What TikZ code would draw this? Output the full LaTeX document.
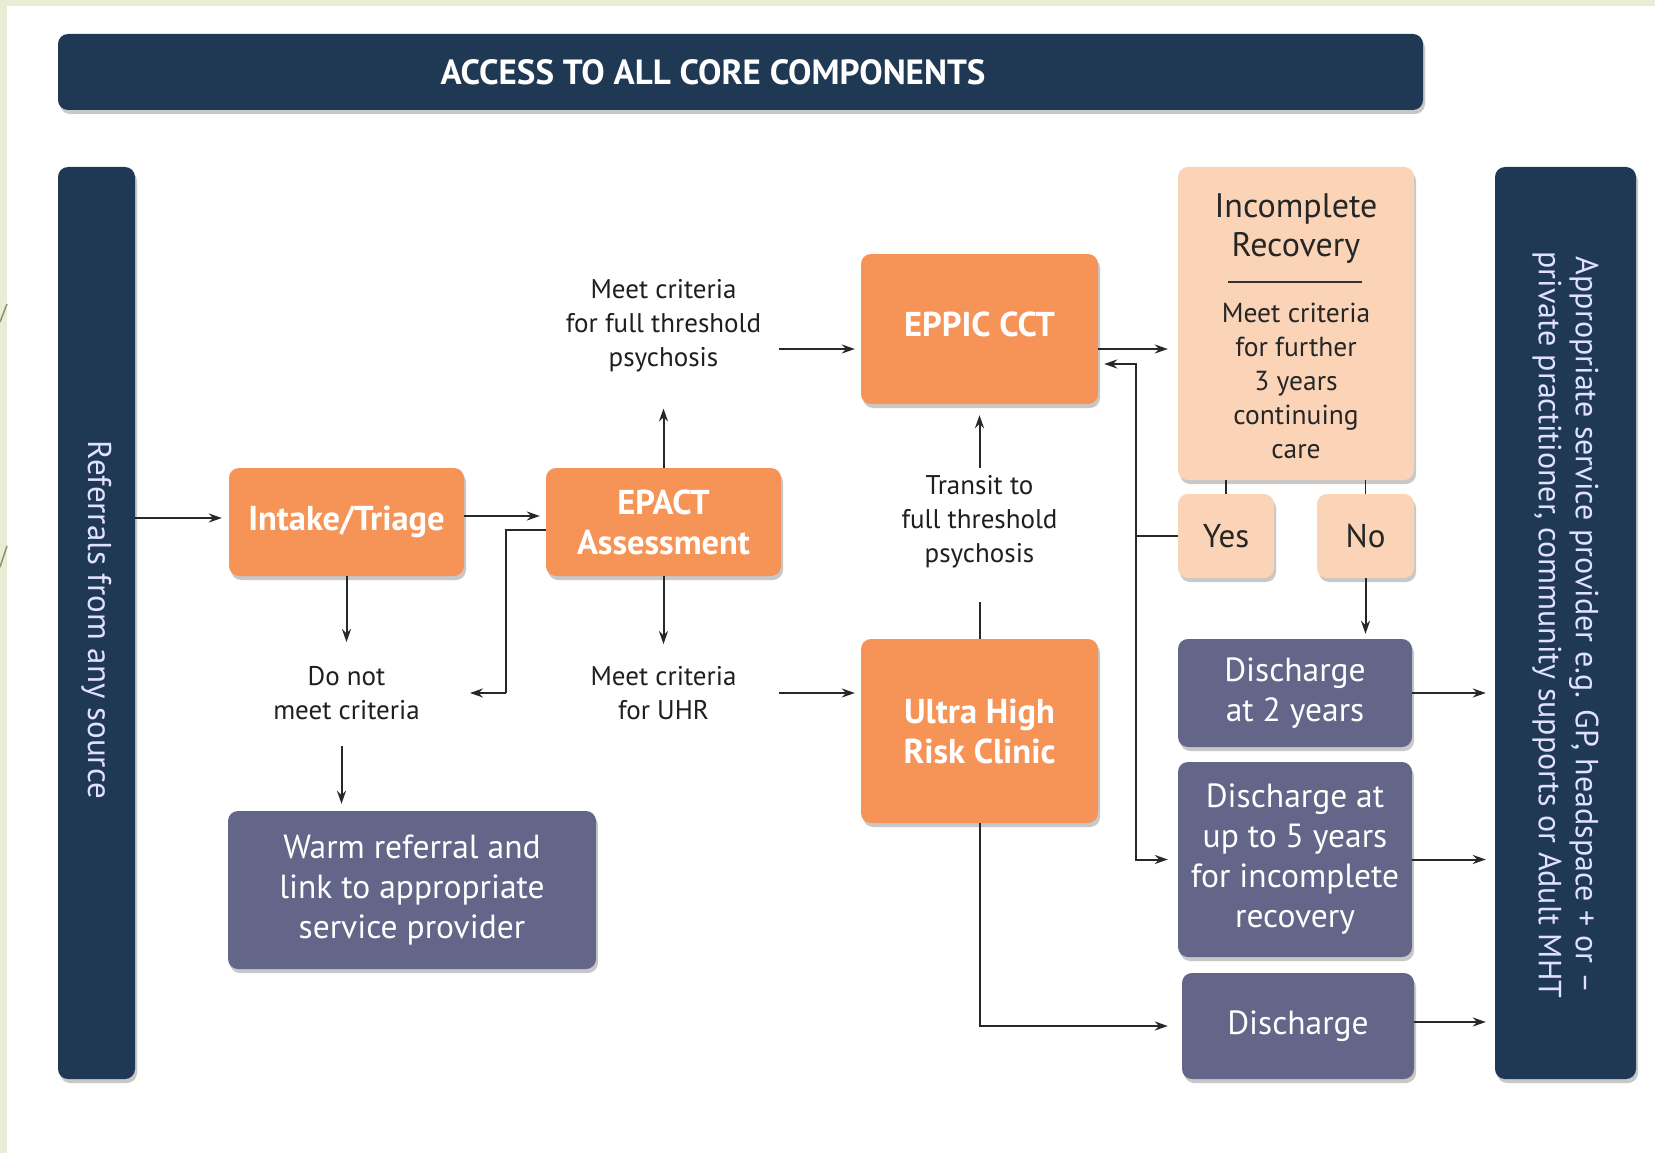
\documentclass[tikz,border=0pt]{standalone}
\usepackage{fontspec}
\setmainfont{PT Sans}
\usetikzlibrary{arrows.meta,calc,shadows}
\definecolor{navy}{RGB}{31,56,83}
\definecolor{orangec}{RGB}{246,148,88}
\definecolor{peach}{RGB}{251,212,184}
\definecolor{slate}{RGB}{99,101,137}
\definecolor{linec}{RGB}{40,40,40}
\definecolor{bggreen}{RGB}{232,237,214}
\definecolor{stripe}{RGB}{150,140,110}
\begin{document}
\begin{tikzpicture}[x=1pt,y=-1pt,
  arr/.style={draw=linec, line width=2pt, -{Stealth[length=13pt,width=9pt]}},
  ln/.style={draw=linec, line width=2pt},
  box/.style={rounded corners=10pt, inner sep=0pt, align=center,
    drop shadow={shadow xshift=2pt, shadow yshift=-4pt, opacity=0.3, fill=black!70}},
  obox/.style={box, fill=orangec, text=white, font=\bfseries\fontsize{34.5}{40}\selectfont},
  pbox/.style={box, fill=peach, text=black!85},
  sbox/.style={box, fill=slate, text=white!92, font=\fontsize{33.5}{40}\selectfont},
  nbar/.style={box, fill=navy},
  lbl/.style={align=center, inner sep=0pt, text=black!88, font=\fontsize{27}{34}\selectfont}
]
\useasboundingbox (0,0) rectangle (1655,1153);
\fill[bggreen] (0,0) rectangle (1655,1153);
\fill[white] (7,6) rectangle (1655,1153);
\draw[stripe, line width=1.5pt] (7,304) -- (0,322);
\draw[stripe, line width=1.5pt] (7,546) -- (0,567);

% bars
\node[nbar, minimum width=1365pt, minimum height=76pt] (top) at (740.5,72) {};
\node[text=white, font=\bfseries\fontsize{35}{40}\selectfont, inner sep=0pt] (toptxt) at (713,72) {ACCESS TO ALL CORE COMPONENTS};
\node[nbar, minimum width=77pt, minimum height=912pt] (lbar) at (96.5,623) {};
\node[rotate=-90, text=white!88!blue, font=\fontsize{33}{38}\selectfont, inner sep=0pt] (ltxt) at (96.5,620) {Referrals from any source};
\node[nbar, minimum width=141pt, minimum height=912pt] (rbar) at (1565.5,623) {};
\node[rotate=-90, text=white!88!blue, font=\fontsize{32}{37}\selectfont, inner sep=0pt, align=center] (rtxt) at (1565.5,625)
  {Appropriate service provider e.g. GP, headspace + or --\\private practitioner, community supports or Adult MHT};

% orange boxes
\node[obox, minimum width=235pt, minimum height=108pt] (intake) at (346.5,522) {Intake/Triage};
\node[obox, minimum width=235pt, minimum height=108pt] (epact) at (663.5,522) {EPACT\\Assessment};
\node[obox, minimum width=237pt, minimum height=150pt] (eppic) at (979.5,329) {};
\node[text=white, font=\bfseries\fontsize{34.5}{40}\selectfont, inner sep=0pt] (eppictxt) at (979.5,324) {EPPIC CCT};
\node[obox, minimum width=237pt, minimum height=184pt] (uhr) at (979.5,731) {Ultra High\\Risk Clinic};

% peach boxes
\node[pbox, minimum width=236pt, minimum height=313pt] (incomp) at (1296,323.5) {};
\node[text=black!85, align=center, inner sep=0pt, font=\fontsize{34}{39}\selectfont] (inctitle) at (1296,229) {Incomplete\\Recovery};
\draw[black!80, line width=2pt] (1228,282) -- (1362,282);
\node[text=black!85, align=center, inner sep=0pt, font=\fontsize{27.5}{34}\selectfont] (incbody) at (1296,381) {Meet criteria\\for further\\3 years\\continuing\\care};
\node[pbox, minimum width=96pt, minimum height=84pt, font=\fontsize{33}{38}\selectfont] (yes) at (1226,536) {Yes};
\node[pbox, minimum width=97pt, minimum height=84pt, font=\fontsize{33}{38}\selectfont] (no) at (1365.5,536) {No};

% slate boxes
\node[sbox, minimum width=234pt, minimum height=108pt] (d2) at (1295,693) {Discharge\\at 2 years};
\node[sbox, minimum width=234pt, minimum height=195pt] (d5) at (1295,859.5) {Discharge at\\up to 5 years\\for incomplete\\recovery};
\node[sbox, minimum width=232pt, minimum height=106pt] (dis) at (1298,1026) {Discharge};
\node[sbox, minimum width=368pt, minimum height=158pt] (warm) at (412,890) {Warm referral and\\link to appropriate\\service provider};

% labels
\node[lbl] (lfull) at (663.5,326) {Meet criteria\\for full threshold\\psychosis};
\node[lbl] (lnot) at (346.5,693) {Do not\\meet criteria};
\node[lbl] (luhr) at (663.5,693) {Meet criteria\\for UHR};
\node[lbl] (ltransit) at (979.5,522) {Transit to\\full threshold\\psychosis};

% free-end coordinates
\coordinate (notin) at (470,693);
\coordinate (fullout) at (779,349);
\coordinate (uhrout) at (779,693);
\coordinate (eppicout) at (1098,349);
\coordinate (fb) at (1136,536);

% connectors
\draw[arr, shorten >=7pt] (lbar.east |- 0,518) -- (intake.west |- 0,518);
\draw[arr, shorten >=6pt] (intake.east |- 0,516) -- (epact.west |- 0,516);
\draw[ln] (epact.west |- 0,530) -| (506,693);
\draw[arr] (506,693) -- (notin);
\draw[arr] (intake.south) -- ($(lnot.north)+(0,-24)$);
\draw[arr, shorten >=7pt] ($(lnot.south)+(-5,26)$) -- (warm.north -| 341.5,0);
\draw[arr] (epact.north) -- ($(lfull.south)+(0,36)$);
\draw[arr] (epact.south) -- ($(luhr.north)+(0,-22)$);
\draw[arr, shorten >=6pt] (fullout) -- (fullout -| eppic.west);
\draw[arr, shorten >=6pt] (uhrout) -- (uhrout -| uhr.west);
\draw[ln] (uhr.north) -- ($(ltransit.south)+(0,33)$);
\draw[arr, shorten >=11pt] ($(ltransit.north)+(0,-7)$) -- (eppic.south);
\draw[arr, shorten >=10pt] (eppicout) -- (eppicout -| incomp.west);
\draw[ln] (yes.west) -- (fb);
\draw[arr, shorten >=6pt] (fb) |- ($(eppic.east)+(0,35)$);
\draw[arr, shorten >=10pt] (fb) |- (d5.west);
\draw[ln, line width=1.3pt] (incomp.south -| yes.north) -- (yes.north);
\draw[ln, line width=1.3pt] (incomp.south -| no.north) -- (no.north);
\draw[arr, shorten >=5pt] (no.south) -- (d2.north -| no.south);
\draw[arr, shorten >=14pt] (uhr.south) |- (dis.west);
\draw[arr, shorten >=9pt] (d2.east) -- (d2.east -| rbar.west);
\draw[arr, shorten >=9pt] (d5.east) -- (d5.east -| rbar.west);
\draw[arr, shorten >=9pt] (dis.east |- 0,1022) -- (rbar.west |- 0,1022);
\end{tikzpicture}
\end{document}
